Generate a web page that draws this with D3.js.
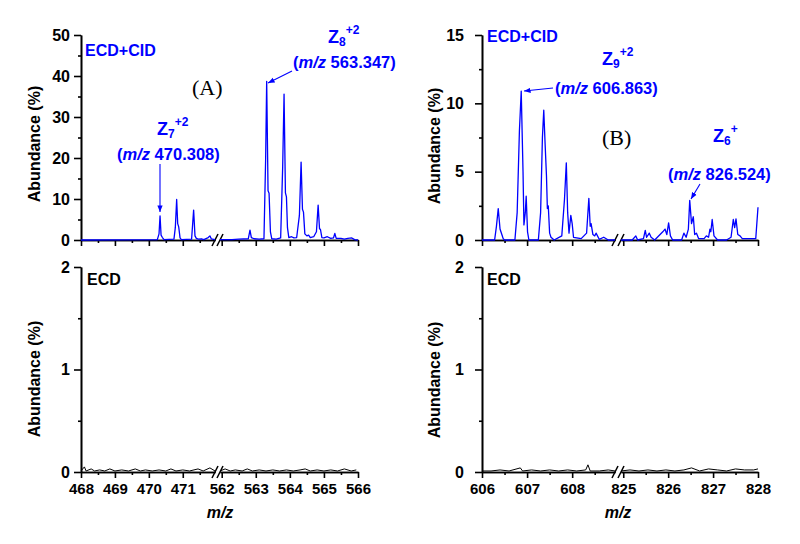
<!DOCTYPE html>
<html>
<head>
<meta charset="utf-8">
<script src="https://cdn.jsdelivr.net/npm/d3@7"></script>
<style>
  body { margin: 0; background: #fff; }
  text { font-family: "Liberation Sans", Arial, sans-serif; font-weight: bold; }
</style>
</head>
<body>
<svg id="chart" width="800" height="544"></svg>
<script>
'use strict'

//---------------------------- datos --------------------------------//
// (A) ECD+CID, m/z 468-472 // 562-566
var cidA_mz = [468.00, 470.25, 470.30, 470.33, 470.36, 470.40, 470.45, 470.74, 470.78, 470.82, 470.85, 470.88, 470.92, 470.96,
  471.26, 471.32, 471.36, 471.40, 471.46, 471.55, 471.62, 471.75, 471.80, 471.84, 471.95,
  561.95, 562.30, 562.50, 562.78, 562.83, 562.87, 562.95, 563.10, 563.24, 563.29, 563.32, 563.36, 563.39, 563.43, 563.47,
  563.60, 563.73, 563.79, 563.83, 563.87, 563.90, 563.93, 563.97, 564.05, 564.12, 564.20, 564.28, 564.33, 564.37, 564.40,
  564.44, 564.50, 564.55, 564.60, 564.70, 564.78, 564.83, 564.87, 564.90, 564.94, 565.00, 565.10, 565.20, 565.28, 565.32,
  565.36, 565.50, 565.60, 565.70, 565.82, 565.90, 566.00];
var cidA_ab = [0, 0.1, 1.5, 5.9, 1.2, 0.6, 0.1, 0.2, 3, 9.9, 4, 3.2, 0.5, 0.1,
  0.2, 7.3, 1.0, 0.4, 0.2, 0.3, 0.1, 0.6, 1.0, 0.3, 0.1,
  0.1, 0.1, 0.2, 0.3, 2.4, 0.6, 0.3, 0.2, 0.3, 20, 38.7, 12, 11.4, 2, 0.3,
  0.2, 0.5, 18, 35.6, 11.5, 10.5, 3, 0.6, 0.8, 0.5, 0.6, 6, 19, 7.5, 6.8,
  1.5, 1.0, 1.2, 0.6, 0.8, 2, 8.5, 2.8, 2.5, 0.6, 0.5, 0.8, 0.4, 0.5, 1.6,
  0.4, 0.4, 0.2, 0.4, 0.5, 0.1, 0];

// (B) ECD+CID, m/z 606-609 // 825-828
var cidB_mz = [606.00, 606.28, 606.32, 606.36, 606.40, 606.44, 606.47, 606.50, 606.73, 606.78, 606.83, 606.87, 606.91, 606.93,
  606.96, 606.98, 607.01, 607.04, 607.25, 607.30, 607.34, 607.37, 607.40, 607.43, 607.45, 607.47, 607.50, 607.53, 607.60,
  607.77, 607.83, 607.87, 607.90, 607.93, 607.97, 608.00, 608.03, 608.20, 608.32, 608.37, 608.40, 608.42, 608.46, 608.50,
  608.53, 608.60, 608.70, 608.80, 608.95,
  824.95, 825.20, 825.28, 825.32, 825.45, 825.49, 825.52, 825.58, 825.62, 825.70, 825.88, 825.93, 825.97, 826.01, 826.05,
  826.10, 826.30, 826.35, 826.40, 826.45, 826.48, 826.52, 826.56, 826.59, 826.63, 826.68, 826.80, 826.85, 826.90, 826.93,
  826.95, 826.98, 827.02, 827.10, 827.30, 827.40, 827.45, 827.48, 827.51, 827.55, 827.60, 827.65, 827.80, 827.95, 828.00];
var cidB_ab = [0, 0, 1.0, 2.3, 0.8, 0.4, 0.1, 0, 0, 2, 8, 10.9, 5, 1.1,
  2.0, 3.2, 0.6, 0, 0, 2, 7.5, 9.5, 7, 4.7, 2.3, 2.5, 0.5, 0.2, 0,
  0.3, 3, 5.65, 2, 0.5, 1.8, 1.2, 0.2, 0.1, 0.5, 3.05, 1.0, 1.2, 0.4, 0.3,
  0.5, 0.05, 0.2, 0, 0,
  0, 0, 0.3, 0, 0.1, 0.7, 0.2, 0.5, 0.2, 0, 0.6, 0.8, 0.4, 1.25, 0.3,
  0, 0, 0.5, 0.2, 0.8, 2.9, 1.2, 1.7, 0.4, 0.5, 0.1, 0.1, 0.3, 0.2, 0.8,
  0.6, 1.5, 0.3, 0, 0, 0.2, 1.5, 0.9, 1.55, 0.4, 0.3, 0.1, 0.1, 0.1, 2.4];

// ECD sola (ruido de fondo)
var ecdA_mz = [468.00, 468.10, 468.15, 468.30, 468.40, 468.55, 468.70, 468.85, 469.00, 469.20, 469.40, 469.60, 469.75,
  469.90, 470.10, 470.30, 470.50, 470.65, 470.80, 471.00, 471.20, 471.45, 471.60, 471.80, 471.95,
  561.95, 562.10, 562.25, 562.40, 562.60, 562.75, 562.90, 563.10, 563.30, 563.50, 563.70, 563.90, 564.10, 564.30,
  564.45, 564.60, 564.80, 565.00, 565.20, 565.40, 565.60, 565.80, 565.95];
var ecdA_ab = [0.01, 0.05, 0.01, 0.03, 0.01, 0.02, 0.01, 0.03, 0.01, 0.02, 0.01, 0.03, 0.01,
  0.02, 0.01, 0.02, 0.01, 0.03, 0.01, 0.02, 0.01, 0.03, 0.01, 0.04, 0.01,
  0.01, 0.03, 0.01, 0.02, 0.01, 0.03, 0.01, 0.02, 0.01, 0.02, 0.01, 0.02, 0.01, 0.02,
  0.03, 0.01, 0.02, 0.01, 0.02, 0.01, 0.03, 0.01, 0.02];

var ecdB_mz = [606.00, 606.20, 606.40, 606.60, 606.85, 606.90, 607.10, 607.30, 607.50, 607.70, 607.90, 608.10, 608.30,
  608.35, 608.40, 608.60, 608.80, 608.95,
  824.95, 825.15, 825.35, 825.55, 825.75, 825.95, 826.15, 826.35, 826.52, 826.70, 826.90, 827.10, 827.30, 827.50,
  827.70, 827.90, 828.00];
var ecdB_ab = [0.01, 0.01, 0.02, 0.01, 0.04, 0.01, 0.02, 0.01, 0.02, 0.01, 0.02, 0.01, 0.02,
  0.07, 0.01, 0.01, 0.02, 0.01,
  0.01, 0.02, 0.01, 0.02, 0.01, 0.02, 0.01, 0.02, 0.04, 0.01, 0.03, 0.02, 0.01, 0.03,
  0.02, 0.02, 0.03];

// ticks
var xTicksA = [468, 469, 470, 471, 562, 563, 564, 565, 566];
var xMinorA = [468.5, 469.5, 470.5, 471.5, 562.5, 563.5, 564.5, 565.5];
var xTicksB = [606, 607, 608, 825, 826, 827, 828];
var xMinorB = [606.5, 607.5, 608.5, 825.5, 826.5, 827.5];
var yTicksCidA = [0, 10, 20, 30, 40, 50];
var yMinorCidA = [5, 15, 25, 35, 45];
var yTicksCidB = [0, 5, 10, 15];
var yMinorCidB = [2.5, 7.5, 12.5];
var yTicksEcd = [0, 1, 2];
var yMinorEcd = [0.5, 1.5];

//---------------------------- dibujo --------------------------------//
var svg = d3.select('#chart');
var azul = '#0000ff';

svg.append('defs').append('marker')
  .attr('id', 'flecha')
  .attr('viewBox', '0 0 10 10')
  .attr('refX', 10).attr('refY', 5)
  .attr('markerWidth', 6).attr('markerHeight', 6)
  .attr('orient', 'auto')
  .append('path').attr('d', 'M0,1 L10,5 L0,9 z').attr('fill', azul);

function estiloEje(sel, size) {
  sel.attr('font-size', size);
  sel.selectAll('path, line').attr('stroke', '#000').attr('stroke-width', 1.6);
  sel.selectAll('text').attr('fill', '#000');
}

function panel(o) {
  var g = svg.append('g');
  var y = d3.scaleLinear().domain(o.yDomain).range([o.yBottom, o.yTop]);
  var segs = o.segs.map(function (s) { return d3.scaleLinear().domain(s.domain).range(s.range); });

  // eje Y
  g.append('g').attr('transform', 'translate(' + o.segs[0].range[0] + ',0)')
    .call(d3.axisLeft(y).tickValues(o.yMinor).tickSize(3).tickSizeOuter(0).tickFormat(''))
    .call(estiloEje, 16);
  g.append('g').attr('transform', 'translate(' + o.segs[0].range[0] + ',0)')
    .call(d3.axisLeft(y).tickValues(o.yTicks).tickSize(7).tickSizeOuter(0).tickPadding(o.yPad).tickFormat(d3.format('d')))
    .call(estiloEje, 16);

  // eje X por tramos
  segs.forEach(function (x) {
    var d = x.domain();
    var maj = o.xTicks.filter(function (t) { return t >= d[0] && t <= d[1]; });
    var min = o.xMinor.filter(function (t) { return t >= d[0] && t <= d[1]; });
    g.append('g').attr('transform', 'translate(0,' + o.yBottom + ')')
      .call(d3.axisBottom(x).tickValues(min).tickSize(3).tickSizeOuter(0).tickFormat(''))
      .call(estiloEje, 15);
    g.append('g').attr('transform', 'translate(0,' + o.yBottom + ')')
      .call(d3.axisBottom(x).tickValues(maj).tickSize(6).tickSizeOuter(0).tickPadding(5)
        .tickFormat(o.xLabels ? d3.format('d') : ''))
      .call(estiloEje, 15);
  });

  // marca de corte //
  var xa = o.segs[0].range[1], xb = o.segs[1].range[0];
  [xa, xb].forEach(function (xx) {
    g.append('line')
      .attr('x1', xx - 3).attr('y1', o.yBottom + 6)
      .attr('x2', xx + 3).attr('y2', o.yBottom - 6)
      .attr('stroke', '#000').attr('stroke-width', 1.6);
  });

  // espectro
  segs.forEach(function (x) {
    var d = x.domain();
    var pts = o.mz.map(function (m, i) { return [m, o.ab[i]]; })
      .filter(function (p) { return p[0] >= d[0] && p[0] <= d[1]; });
    var linea = d3.line()
      .x(function (p) { return x(p[0]); })
      .y(function (p) { return y(p[1]); });
    g.append('path').datum(pts)
      .attr('fill', 'none')
      .attr('stroke', o.color)
      .attr('stroke-width', o.lw)
      .attr('stroke-linejoin', 'round')
      .attr('d', linea);
  });

  // titulo eje Y
  g.append('text')
    .attr('transform', 'translate(' + o.yLabelX + ',' + o.yLabelY + ') rotate(-90)')
    .attr('text-anchor', 'middle')
    .attr('font-size', 16)
    .text('Abundance (%)');

  if (o.xLabels) {
    g.append('text')
      .attr('x', o.xLabelX).attr('y', o.yBottom + 46)
      .attr('text-anchor', 'middle')
      .attr('font-size', 16)
      .style('font-style', 'italic')
      .text('m/z');
  }
  return g;
}

var segsA = [{ domain: [468, 471.95], range: [81, 215] }, { domain: [561.95, 566], range: [220, 358] }];
var segsB = [{ domain: [606, 608.95], range: [482, 615] }, { domain: [824.95, 828], range: [621, 758] }];

panel({ segs: segsA, yDomain: [0, 50], yTop: 35, yBottom: 240, yTicks: yTicksCidA, yMinor: yMinorCidA, yPad: 4,
  xTicks: xTicksA, xMinor: xMinorA, xLabels: false, mz: cidA_mz, ab: cidA_ab, color: azul, lw: 1.3,
  yLabelX: 40, yLabelY: 144 });
panel({ segs: segsA, yDomain: [0, 2], yTop: 267, yBottom: 472, yTicks: yTicksEcd, yMinor: yMinorEcd, yPad: 4,
  xTicks: xTicksA, xMinor: xMinorA, xLabels: true, xLabelX: 220, mz: ecdA_mz, ab: ecdA_ab, color: '#000', lw: 1,
  yLabelX: 40, yLabelY: 379 });
panel({ segs: segsB, yDomain: [0, 15], yTop: 35, yBottom: 240, yTicks: yTicksCidB, yMinor: yMinorCidB, yPad: 11,
  xTicks: xTicksB, xMinor: xMinorB, xLabels: false, mz: cidB_mz, ab: cidB_ab, color: azul, lw: 1.3,
  yLabelX: 440, yLabelY: 146 });
panel({ segs: segsB, yDomain: [0, 2], yTop: 267, yBottom: 472, yTicks: yTicksEcd, yMinor: yMinorEcd, yPad: 11,
  xTicks: xTicksB, xMinor: xMinorB, xLabels: true, xLabelX: 618, mz: ecdB_mz, ab: ecdB_ab, color: '#000', lw: 1,
  yLabelX: 440, yLabelY: 380 });

//---------------------------- anotaciones --------------------------------//
function etiqueta(x, y, txt, color, size) {
  svg.append('text').attr('x', x).attr('y', y).attr('fill', color).attr('font-size', size).text(txt);
}
function ion(x, y, n, carga) {
  var t = svg.append('text').attr('x', x).attr('y', y).attr('fill', azul).attr('font-size', 18);
  t.append('tspan').text('Z');
  t.append('tspan').attr('font-size', 12).attr('dy', 3).text(n);
  t.append('tspan').attr('font-size', 12).attr('dy', -12).text(carga);
}
function mz(x, y, valor) {
  var t = svg.append('text').attr('x', x).attr('y', y).attr('fill', azul).attr('font-size', 16.5);
  t.append('tspan').text('(');
  t.append('tspan').style('font-style', 'italic').text('m/z');
  t.append('tspan').text(' ' + valor + ')');
}
function flecha(x1, y1, x2, y2) {
  svg.append('line').attr('x1', x1).attr('y1', y1).attr('x2', x2).attr('y2', y2)
    .attr('stroke', azul).attr('stroke-width', 1.1).attr('marker-end', 'url(#flecha)');
}
function letra(x, y, txt) {
  svg.append('text').attr('x', x).attr('y', y)
    .style('font-family', '"Liberation Serif", "Times New Roman", serif')
    .style('font-weight', 'normal').attr('font-size', 22).text(txt);
}

etiqueta(85, 56, 'ECD+CID', azul, 16);
etiqueta(487, 42, 'ECD+CID', azul, 16);
etiqueta(87, 285, 'ECD', '#000', 16);
etiqueta(487, 285, 'ECD', '#000', 16);

letra(192, 95, '(A)');
letra(602, 145, '(B)');

ion(157, 135, '7', '+2');
mz(117, 160, '470.308');
flecha(160, 164, 160, 212);

ion(328, 43, '8', '+2');
mz(293, 68, '563.347');
flecha(292, 71, 268, 83);

ion(602, 65, '9', '+2');
mz(555, 94, '606.863');
flecha(553, 88, 524, 91);

ion(713, 142, '6', '+');
mz(668, 180, '826.524');
flecha(700, 184, 691, 199);
</script>
</body>
</html>
